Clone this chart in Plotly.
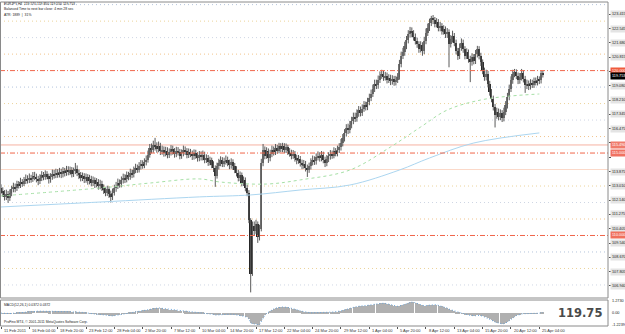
import plotly.graph_objects as go

W, H = 625, 334

# ---------------- data ----------------
first_open = 112.85
closes = [
 112.70,112.55,112.35,112.50,112.30,112.55,112.80,112.95,112.85,113.10,
 113.05,113.25,113.15,113.30,113.45,113.35,113.50,113.40,113.60,113.55,
 113.45,113.30,113.50,113.65,113.55,113.70,113.60,113.40,113.55,113.75,
 113.65,113.80,113.70,113.85,113.70,113.90,113.80,114.00,113.85,113.95,
 113.75,113.90,114.05,113.80,113.65,113.50,113.60,113.40,113.55,113.30,
 113.45,113.20,113.35,113.10,113.25,113.00,113.15,112.90,112.75,112.60,
 112.80,112.50,112.35,112.60,112.85,113.00,113.20,113.10,113.35,113.50,
 113.40,113.65,113.55,113.80,113.70,113.95,114.10,114.00,114.20,114.35,
 114.25,114.45,114.60,114.90,115.30,115.20,115.50,115.40,115.25,115.45,
 115.10,115.20,115.00,115.15,114.90,115.05,115.25,115.10,114.95,115.15,
 115.05,114.85,115.00,115.20,115.10,114.90,115.05,114.95,114.80,115.00,
 114.85,114.70,114.90,114.75,114.90,114.60,114.70,114.45,114.55,114.30,
 114.10,113.60,114.20,114.40,114.55,114.35,114.50,114.60,114.40,114.25,
 114.45,114.20,114.00,113.80,113.50,113.65,113.20,113.35,112.90,112.60,
 110.95,107.65,110.60,110.30,110.70,109.90,110.40,114.40,115.20,114.85,
 115.10,114.70,114.95,115.20,115.05,115.30,115.15,115.40,115.25,115.45,
 115.20,115.35,115.10,115.00,114.85,114.95,114.70,114.55,114.65,114.40,
 114.25,114.35,114.10,114.00,114.20,114.45,114.60,114.50,114.75,114.85,
 114.70,114.90,114.60,114.40,114.65,114.80,114.95,114.85,115.10,115.00,
 115.20,115.35,115.60,115.90,116.20,116.50,116.40,116.70,116.95,117.20,
 117.10,117.40,117.60,117.45,117.70,117.90,117.80,118.10,118.35,118.60,
 118.90,119.20,119.10,119.45,119.70,119.80,119.60,119.70,119.45,119.55,
 119.35,119.50,119.30,119.45,119.60,120.40,120.90,121.10,121.50,121.85,
 122.20,122.40,122.25,122.05,121.80,121.60,121.30,121.55,121.20,121.80,
 122.30,122.60,122.90,123.20,123.05,122.85,122.95,122.60,122.70,122.40,
 122.50,122.20,122.35,121.60,121.90,122.10,121.70,121.20,120.90,121.40,
 121.70,121.30,120.90,121.10,120.70,120.50,120.80,120.60,121.00,121.30,
 120.90,120.50,120.00,119.60,119.80,119.20,118.70,118.30,117.80,117.30,
 117.50,117.20,117.40,117.10,117.50,117.90,118.40,118.90,119.40,119.80,
 119.90,119.70,119.40,119.60,119.85,119.50,119.10,119.20,119.05,119.25,
 119.15,119.35,119.30,119.45,119.40,119.85,119.75]
highs = [
 113.10,112.92,112.75,112.78,112.70,112.80,113.02,113.20,113.15,113.32,
 113.30,113.50,113.42,113.55,113.70,113.65,113.76,113.68,113.85,113.86,
 113.75,113.62,113.72,113.90,113.85,113.95,113.90,113.75,113.78,114.00,
 113.98,114.05,114.02,114.10,114.05,114.15,114.10,114.22,114.20,114.18,
 114.15,114.12,114.40,114.25,114.00,113.85,113.82,113.78,113.76,113.72,
 113.68,113.62,113.58,113.52,113.48,113.42,113.38,113.32,113.10,112.95,
 113.02,112.98,112.72,112.85,113.08,113.25,113.45,113.40,113.58,113.75,
 113.72,113.88,113.86,114.05,114.00,114.18,114.35,114.30,114.45,114.58,
 114.56,114.68,114.85,115.15,115.55,115.58,115.75,115.92,115.65,115.70,
 115.62,115.45,115.40,115.38,115.35,115.28,115.48,115.45,115.30,115.38,
 115.36,115.25,115.22,115.45,115.40,115.30,115.28,115.25,115.15,115.22,
 115.20,115.05,115.12,115.10,115.15,115.08,114.92,114.88,114.78,114.72,
 114.50,114.25,114.42,114.65,114.80,114.75,114.72,114.85,114.78,114.60,
 114.68,114.62,114.40,114.20,113.98,113.88,113.82,113.58,113.52,113.08,
 112.75,111.05,110.85,110.85,110.95,110.85,110.65,114.65,115.55,115.40,
 115.35,115.28,115.20,115.45,115.40,115.55,115.50,115.62,115.60,115.62,
 115.60,115.58,115.50,115.30,115.20,115.18,115.12,114.90,114.88,114.82,
 114.60,114.58,114.52,114.30,114.42,114.68,114.85,114.80,114.98,115.10,
 115.05,115.12,115.08,114.78,114.88,115.05,115.18,115.15,115.35,115.30,
 115.45,115.60,115.85,116.15,116.45,116.75,116.78,116.95,117.20,117.45,
 117.45,117.65,117.85,117.82,117.95,118.15,118.12,118.35,118.60,118.85,
 119.15,119.45,119.45,119.70,119.95,120.05,119.98,119.92,119.88,119.78,
 119.75,119.72,119.68,119.68,119.85,120.65,121.15,121.38,121.75,122.10,
 122.45,122.65,122.62,122.45,122.25,122.00,121.78,121.78,121.72,122.05,
 122.55,122.85,123.15,123.32,123.37,123.25,123.18,123.12,122.95,122.88,
 122.75,122.68,122.58,122.50,122.15,122.42,122.28,121.88,121.38,121.65,
 121.95,121.88,121.48,121.35,121.28,120.90,121.05,121.00,121.25,121.50,
 121.48,121.08,120.68,120.18,120.05,119.98,119.38,118.88,118.48,117.98,
 117.75,117.70,117.65,117.60,117.75,118.15,118.65,119.15,119.65,120.05,
 120.10,120.08,119.88,119.85,120.10,120.02,119.68,119.45,119.40,119.48,
 119.45,119.58,119.58,119.68,119.65,120.00,119.98]
lows = [
 112.50,112.35,112.12,112.15,111.98,112.10,112.38,112.62,112.62,112.70,
 112.85,112.88,112.95,113.00,113.12,113.15,113.18,113.20,113.25,113.35,
 113.22,113.05,113.12,113.30,113.35,113.38,113.40,113.15,113.20,113.38,
 113.45,113.48,113.50,113.52,113.48,113.52,113.58,113.62,113.65,113.66,
 113.52,113.55,113.72,113.60,113.42,113.28,113.30,113.18,113.20,113.08,
 113.10,112.98,113.00,112.88,112.92,112.78,112.80,112.70,112.52,112.38,
 112.40,112.28,112.00,112.15,112.42,112.65,112.82,112.90,112.92,113.15,
 113.18,113.22,113.35,113.38,113.48,113.52,113.78,113.80,113.82,114.00,
 114.05,114.08,114.25,114.42,114.72,114.98,115.02,115.15,115.02,115.05,
 114.88,114.90,114.78,114.80,114.68,114.70,114.85,114.90,114.72,114.75,
 114.85,114.62,114.65,114.80,114.88,114.68,114.70,114.75,114.58,114.60,
 114.65,114.48,114.50,114.55,114.55,114.38,114.40,114.22,114.25,114.08,
 113.85,112.95,113.45,114.00,114.20,114.15,114.15,114.30,114.20,114.02,
 114.05,113.98,113.78,113.58,113.28,113.30,112.98,113.00,112.68,112.38,
 110.75,106.55,107.55,110.00,110.10,109.55,109.70,110.25,114.20,114.62,
 114.65,114.40,114.50,114.75,114.85,114.88,114.95,114.98,115.05,115.05,
 115.00,115.00,114.88,114.78,114.62,114.65,114.48,114.32,114.35,114.18,
 114.02,114.05,113.88,113.55,113.80,114.00,114.25,114.28,114.30,114.55,
 114.48,114.50,114.38,114.15,114.20,114.45,114.60,114.65,114.68,114.80,
 114.80,115.00,115.15,115.40,115.70,116.00,116.15,116.20,116.50,116.75,
 116.88,116.90,117.20,117.22,117.25,117.50,117.58,117.60,117.90,118.15,
 118.40,118.70,118.88,118.90,119.25,119.50,119.38,119.40,119.22,119.25,
 119.12,119.15,119.08,119.10,119.25,119.45,120.20,120.70,120.90,121.30,
 121.65,122.00,122.02,121.82,121.58,121.38,121.08,121.10,120.90,121.00,
 121.60,122.10,122.40,122.70,122.82,122.62,122.62,122.38,122.38,122.18,
 122.18,121.98,121.98,120.20,121.40,121.70,121.48,120.98,120.65,120.70,
 121.20,121.08,120.68,120.70,120.48,119.30,120.30,120.38,120.40,120.80,
 120.68,120.28,119.78,119.38,119.40,118.98,118.48,118.08,117.58,116.55,
 117.08,116.98,117.00,116.88,116.92,117.30,117.70,118.20,118.70,119.20,
 119.60,119.48,119.18,119.20,119.40,119.28,118.65,118.88,118.82,118.85,
 118.95,118.95,119.10,119.10,119.18,119.22,119.58]

# moving averages (bar index, price)
ma_slow_bars = [0, 56, 112, 141, 169, 197, 225, 242, 267, 304]
ma_slow_vals = [111.73, 112.03, 112.34, 112.46, 112.76, 113.06, 113.97, 114.70, 115.61, 116.22]
ma_fast_bars = [0, 56, 84, 112, 124, 150, 169, 197, 220, 237, 252, 271, 288, 304]
ma_fast_vals = [112.40, 112.88, 113.18, 113.43, 113.24, 113.12, 113.37, 113.97, 115.37, 116.58, 117.61, 118.22, 118.46, 118.58]

# horizontal levels
round_levels = [120.0, 115.0, 110.0]
grid_levels = [124, 123, 122, 121, 119, 118, 117, 116, 113, 112, 111, 109, 108, 107]
grid_colors = ["#b4c4dc", "#ecd39a", "#cfd6e4", "#f2c48c", "#b4c4dc", "#ecd39a", "#cfd6e4",
               "#f2c48c", "#ecd39a", "#cfd6e4", "#f2c48c", "#b4c4dc", "#ecd39a", "#cfd6e4"]
salmon_level = 115.49
light_level = 114.0
bid_price = 119.753

# price-scale labels
axis_label_vals = [123.414, 122.547, 121.680, 120.813, 119.945, 119.078, 118.211, 117.344, 116.477, 115.610,
                   114.742, 113.875, 113.008, 112.141, 111.274, 110.407, 109.539, 108.672, 107.805, 106.938]
axis_label_text = ["123.415", "122.545", "121.680", "120.815", "119.945", "119.080", "118.210", "117.345", "116.475", "115.610",
                   "114.740", "113.875", "113.010", "112.140", "111.275", "110.405", "109.540", "108.670", "107.805", "106.940"]
hidden_labels = [4, 9, 10]

time_label_bars = list(range(0, 305, 16))
time_labels = ["11 Feb 2011", "16 Feb 04:00", "18 Feb 20:00", "23 Feb 12:00", "28 Feb 04:00", "2 Mar 20:00",
               "7 Mar 12:00", "10 Mar 04:00", "14 Mar 20:00", "17 Mar 12:00", "22 Mar 04:00", "24 Mar 20:00",
               "29 Mar 12:00", "1 Apr 04:00", "5 Apr 20:00", "8 Apr 12:00", "13 Apr 04:00", "15 Apr 20:00",
               "20 Apr 12:00", "25 Apr 04:00"]

macd_top_label, macd_bottom_label = 1.2730, -1.2239

# ---------------- derived ----------------
n = len(closes)
idx = list(range(n))
opens = [first_open] + closes[:-1]
highs = [max(h, o, c) for h, o, c in zip(highs, opens, closes)]
lows = [min(l, o, c) for l, o, c in zip(lows, opens, closes)]

def ema(vals, p):
    a = 2.0 / (p + 1)
    e = vals[0]
    out = []
    for v in vals:
        e = e + a * (v - e)
        out.append(e)
    return out

e12, e26 = ema(closes, 12), ema(closes, 26)
macd = [a - b for a, b in zip(e12, e26)]

def py(ypx):
    return 1 - ypx / H

XR = 608 / W
fig = go.Figure()

# wicks
wx, wy = [], []
for i in idx:
    wx += [i, i, None]
    wy += [lows[i], highs[i], None]
fig.add_trace(go.Scatter(x=wx, y=wy, mode="lines", line=dict(color="#5a5a5a", width=1),
                         xaxis="x", yaxis="y", hoverinfo="skip"))
# bodies
up = [i for i in idx if closes[i] >= opens[i]]
dn = [i for i in idx if closes[i] < opens[i]]
def body(sel):
    base = [min(opens[i], closes[i]) for i in sel]
    hgt = [max(abs(closes[i] - opens[i]), 0.05) for i in sel]
    return base, hgt
b_up, h_up = body(up)
b_dn, h_dn = body(dn)
fig.add_trace(go.Bar(x=up, y=h_up, base=b_up, width=0.95, marker=dict(color="#737373", line=dict(width=0)),
                     xaxis="x", yaxis="y", hoverinfo="skip"))
fig.add_trace(go.Bar(x=dn, y=h_dn, base=b_dn, width=0.95, marker=dict(color="#262626", line=dict(width=0)),
                     xaxis="x", yaxis="y", hoverinfo="skip"))

fig.add_trace(go.Scatter(x=ma_slow_bars, y=ma_slow_vals, mode="lines", line=dict(color="#acd6f0", width=1, shape="spline"),
                         xaxis="x", yaxis="y", hoverinfo="skip"))
fig.add_trace(go.Scatter(x=ma_fast_bars, y=ma_fast_vals, mode="lines",
                         line=dict(color="#a6e0a6", width=1, dash="3px,3px", shape="spline"),
                         xaxis="x", yaxis="y", hoverinfo="skip"))

fig.add_trace(go.Bar(x=idx, y=macd, width=0.4, marker=dict(color="#b0b0b0", line=dict(width=0)),
                     xaxis="x2", yaxis="y2", hoverinfo="skip"))
fig.add_trace(go.Scatter(x=idx, y=macd, mode="lines", line=dict(color="#6aa6dc", width=1, dash="1px,2px"),
                         xaxis="x2", yaxis="y2", hoverinfo="skip"))

# round-number levels drawn as traces spanning the visible bars
x_rng = [(0 - 1) / 1.7708, (608 - 1) / 1.7708]
for lv in round_levels:
    fig.add_trace(go.Scatter(x=x_rng, y=[lv, lv], mode="lines",
                             line=dict(color="#f0664a", width=1, dash="5px,2px,1px,2px"),
                             xaxis="x", yaxis="y", hoverinfo="skip"))

shapes = []
for lv, col in zip(grid_levels, grid_colors):
    shapes.append(dict(type="line", xref="paper", yref="y", x0=0, x1=XR, y0=lv, y1=lv,
                       line=dict(color=col, width=1, dash="1px,3px"), layer="below"))
shapes.append(dict(type="line", xref="paper", yref="y", x0=0, x1=XR, y0=light_level, y1=light_level,
                   line=dict(color="#fbd9c9", width=1), layer="below"))
shapes.append(dict(type="line", xref="paper", yref="y", x0=0, x1=XR, y0=salmon_level, y1=salmon_level,
                   line=dict(color="#f6b3a2", width=1), layer="below"))
# frames
shapes.append(dict(type="rect", xref="paper", yref="paper", x0=0.0008, x1=XR, y0=py(298), y1=py(2),
                   line=dict(color="#8a8a8a", width=1)))
shapes.append(dict(type="rect", xref="paper", yref="paper", x0=0.0008, x1=XR, y0=py(326), y1=py(300),
                   line=dict(color="#8a8a8a", width=1)))

ann = []
FS = 3.8
LX = 609.5 / W
for k, (v, t) in enumerate(zip(axis_label_vals, axis_label_text)):
    if k in hidden_labels:
        continue
    ann.append(dict(xref="paper", yref="y", x=LX, y=v, xanchor="left", yanchor="middle", text=t,
                    showarrow=False, font=dict(size=FS, color="#222222"), bgcolor="#e4e4e4", borderpad=1))
red_labels = [(120.0, "120.000", "#ef5a3c"), (salmon_level, "115.490", "#f07c6c"),
              (115.0, "115.000", "#f07262"), (110.0, "110.000", "#f0705c")]
for v, t, c in red_labels:
    ann.append(dict(xref="paper", yref="y", x=LX, y=v, xanchor="left", yanchor="middle", text=t,
                    showarrow=False, font=dict(size=FS, color="#ffffff"), bgcolor=c, borderpad=1))
ann.append(dict(xref="paper", yref="y", x=LX, y=bid_price - 0.08, xanchor="left", yanchor="middle",
                text="%.3f" % bid_price, showarrow=False, font=dict(size=FS, color="#ffffff"), bgcolor="#000000",
                borderpad=1))
ann.append(dict(xref="paper", yref="y2", x=LX, y=macd_top_label, xanchor="left", yanchor="middle",
                text="%.4f" % macd_top_label, showarrow=False, font=dict(size=FS, color="#222222")))
ann.append(dict(xref="paper", yref="y2", x=LX, y=0, xanchor="left", yanchor="middle",
                text="0.00", showarrow=False, font=dict(size=FS, color="#222222")))
ann.append(dict(xref="paper", yref="y2", x=LX, y=macd_bottom_label, xanchor="left", yanchor="middle",
                text="%.4f" % macd_bottom_label, showarrow=False, font=dict(size=FS, color="#222222")))

for b, t in zip(time_label_bars, time_labels):
    ann.append(dict(xref="x2", yref="paper", x=b + 0.3, y=py(330), xanchor="left", yanchor="middle", text=t,
                    showarrow=False, font=dict(size=4.0, color="#333333")))

TL = 3.4
ann.append(dict(xref="paper", yref="paper", x=2 / W, y=py(3.5), xanchor="left", yanchor="middle",
                text="EURJPY,H4  119.570 119.850 119.550 119.753", showarrow=False,
                font=dict(size=TL, color="#222222")))
ann.append(dict(xref="paper", yref="paper", x=2 / W, y=py(9.2), xanchor="left", yanchor="middle",
                text="Balanced Time to next bar close: 4 min 28 sec", showarrow=False,
                font=dict(size=TL, color="#222222")))
ann.append(dict(xref="paper", yref="paper", x=2 / W, y=py(15), xanchor="left", yanchor="middle",
                text="ATR: 1889  |  31%", showarrow=False, font=dict(size=TL, color="#222222")))
ann.append(dict(xref="paper", yref="paper", x=2 / W, y=py(305), xanchor="left", yanchor="middle",
                text="MACD(12,26,1) 0.0372 0.0372", showarrow=False, font=dict(size=TL, color="#222222")))
ann.append(dict(xref="paper", yref="paper", x=2 / W, y=py(321.7), xanchor="left", yanchor="middle",
                text="ProFinx MT4, © 2001-2011 MetaQuotes Software Corp.", showarrow=False,
                font=dict(size=TL, color="#222222")))
ann.append(dict(xref="paper", yref="paper", x=604 / W, y=py(312.5), xanchor="right", yanchor="middle",
                text="<b>119.75</b>", showarrow=False,
                font=dict(size=11.5, color="#4a4a4a", family="DejaVu Sans")))

fig.update_layout(
    width=W, height=H, margin=dict(l=0, r=0, t=0, b=0),
    paper_bgcolor="#ffffff", plot_bgcolor="#ffffff", showlegend=False,
    font=dict(family="Liberation Sans", size=5),
    bargap=0, barmode="overlay",
    xaxis=dict(domain=[0, XR], range=x_rng, anchor="y", showticklabels=False, showgrid=False,
               zeroline=False, ticks=""),
    yaxis=dict(domain=[py(298), py(2)], range=[106.209, 124.160], side="right", anchor="x",
               showgrid=False, zeroline=False, showticklabels=False, ticks="outside", ticklen=2,
               tickcolor="#555555", tickvals=axis_label_vals),
    xaxis2=dict(domain=[0, XR], range=x_rng, anchor="y2", showticklabels=False, showgrid=False,
                zeroline=False, ticks="outside", ticklen=2, tickcolor="#555555", tickvals=time_label_bars),
    yaxis2=dict(domain=[py(326), py(300)], range=[-1.30, 1.34], side="right", anchor="x2",
                showgrid=False, zeroline=False, showticklabels=False, ticks=""),
    shapes=shapes, annotations=ann,
)

fig.write_html("out.html")
